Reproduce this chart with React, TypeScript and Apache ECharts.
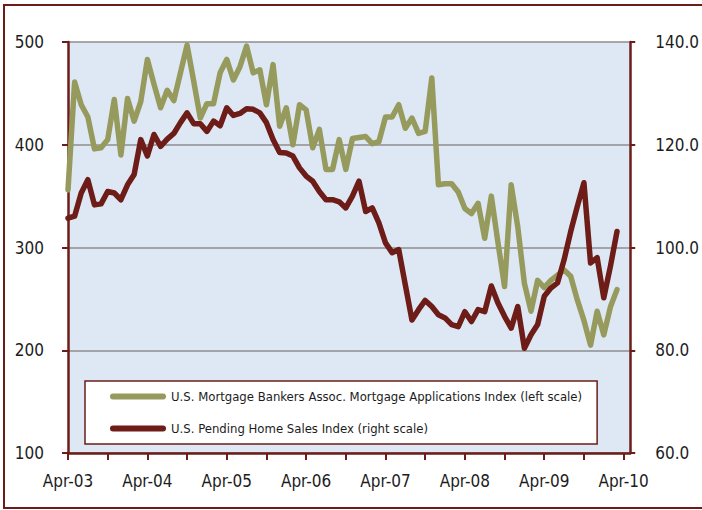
import React, { useEffect, useRef } from "react";
import * as echarts from "echarts";

// Month categories from Apr-03 through May-10 (axis range)
const MONTH_NAMES = ["Jan", "Feb", "Mar", "Apr", "May", "Jun", "Jul", "Aug", "Sep", "Oct", "Nov", "Dec"];
const months: string[] = [];
for (let k = 0; k < 86; k++) {
  const m = (3 + k) % 12;
  const y = 3 + Math.floor((3 + k) / 12);
  months.push(MONTH_NAMES[m] + "-" + String(y).padStart(2, "0"));
}

// U.S. Mortgage Bankers Assoc. Mortgage Applications Index (left scale), Apr-03 .. Mar-10
const mbaApplications = [
  356, 461, 439, 427, 396, 397, 405, 444, 390, 445, 423, 442,
  483, 459, 436, 453, 443, 470, 497, 462, 426, 440, 440, 470,
  483, 463, 476, 496, 470, 473, 439, 478, 418, 436, 400, 439,
  434, 397, 415, 376, 376, 405, 376, 406, 407, 408, 401, 403,
  427, 427, 439, 416, 426, 411, 413, 465, 361, 362, 362, 354,
  338, 333, 343, 309, 350, 305, 262, 361, 320, 265, 238, 268,
  261, 268, 273, 278, 272, 249, 229, 205, 238, 215, 242, 259,
];

// U.S. Pending Home Sales Index (right scale), Apr-03 .. Mar-10
const pendingHomeSales = [
  105.7, 106.1, 110.6, 113.2, 108.3, 108.5, 110.9, 110.6, 109.3, 112.2, 114.2, 121.0,
  117.8, 122.0, 119.7, 121.1, 122.2, 124.3, 126.2, 124.1, 124.1, 122.6, 124.6, 123.7,
  127.2, 125.7, 126.1, 127.0, 126.9, 126.2, 124.3, 121.0, 118.5, 118.4, 117.8, 115.5,
  113.9, 112.9, 110.9, 109.3, 109.3, 108.9, 107.7, 110.0, 112.9, 107.0, 107.7, 104.8,
  100.9, 99.0, 99.6, 92.7, 85.9, 87.9, 89.7, 88.5, 86.9, 86.3, 85.0, 84.6,
  87.5, 85.6, 87.9, 87.5, 92.5, 89.2, 86.6, 84.3, 88.5, 80.4, 83.0, 85.0,
  90.5, 92.1, 93.1, 97.6, 103.1, 108.0, 112.6, 97.0, 98.0, 90.2, 96.3, 103.1,
];

const SERIES_NAMES = [
  "U.S. Mortgage Bankers Assoc. Mortgage Applications Index (left scale)",
  "U.S. Pending Home Sales Index (right scale)",
];

const MAROON = "#6e1c17";
const GREEN = "#979a5d";
const TEXT = "#1c1c1c";
const FONT = "'Liberation Sans Narrow', 'Arial Narrow', 'DejaVu Sans Condensed', sans-serif";

export default function App() {
  const ref = useRef<HTMLDivElement>(null);
  useEffect(() => {
    if (!ref.current) return;
    const chart = echarts.init(ref.current, undefined, { renderer: "svg" });
    chart.setOption({
      animation: false,
      backgroundColor: "#ffffff",
      textStyle: { fontFamily: FONT },
      grid: {
        left: 68,
        right: 70,
        top: 42,
        bottom: 57,
        show: true,
        backgroundColor: "#dde8f4",
        borderWidth: 0,
      },
      legend: {
        orient: "vertical",
        left: 85,
        top: 381,
        padding: [7, 15, 7, 25],
        itemGap: 15,
        itemWidth: 56,
        itemHeight: 6,
        icon: "path://M3,0 H53 A3,3 0 0 1 53,6 H3 A3,3 0 0 1 3,0 Z",
        backgroundColor: "#ffffff",
        borderColor: MAROON,
        borderWidth: 1.5,
        borderRadius: 0,
        textStyle: { fontSize: 13, color: TEXT, fontFamily: FONT, lineHeight: 17 },
        data: SERIES_NAMES,
      },
      xAxis: {
        type: "category",
        data: months,
        boundaryGap: false,
        axisLine: { show: true, lineStyle: { color: MAROON, width: 2.5 } },
        axisTick: {
          show: true,
          interval: (i: number) => i % 6 === 0,
          length: 7,
          lineStyle: { color: MAROON, width: 2 },
        },
        axisLabel: {
          interval: (i: number) => i % 12 === 0,
          margin: 19,
          color: TEXT,
          fontSize: 17,
          fontFamily: FONT,
        },
        splitLine: { show: false },
      },
      yAxis: [
        {
          type: "value",
          position: "left",
          min: 100,
          max: 500,
          interval: 100,
          axisLine: { show: true, lineStyle: { color: MAROON, width: 2.5 } },
          axisTick: { show: true, length: 6, lineStyle: { color: MAROON, width: 2 } },
          axisLabel: { margin: 24, color: TEXT, fontSize: 17, fontFamily: FONT },
          splitLine: { show: true, lineStyle: { color: "#8e8e8e", width: 1.5 } },
        },
        {
          type: "value",
          position: "right",
          min: 60,
          max: 140,
          interval: 20,
          axisLine: { show: true, lineStyle: { color: MAROON, width: 2.5 } },
          axisTick: { show: true, length: 5, lineStyle: { color: MAROON, width: 2 } },
          axisLabel: {
            margin: 25,
            color: TEXT,
            fontSize: 17,
            fontFamily: FONT,
            formatter: (v: number) => v.toFixed(1),
          },
          splitLine: { show: false },
        },
      ],
      series: [
        {
          name: SERIES_NAMES[0],
          type: "line",
          yAxisIndex: 0,
          data: mbaApplications,
          symbol: "none",
          showSymbol: false,
          lineStyle: { color: GREEN, width: 5.5, join: "round", cap: "round" },
          itemStyle: { color: GREEN },
          z: 2,
        },
        {
          name: SERIES_NAMES[1],
          type: "line",
          yAxisIndex: 1,
          data: pendingHomeSales,
          symbol: "none",
          showSymbol: false,
          lineStyle: { color: MAROON, width: 5.5, join: "round", cap: "round" },
          itemStyle: { color: MAROON },
          z: 3,
        },
      ],
      graphic: [
        {
          type: "rect",
          silent: true,
          z: 100,
          shape: { x: 4, y: 5, width: 720, height: 503 },
          style: { fill: "none", stroke: MAROON, lineWidth: 2 },
        },
      ],
    });
    return () => chart.dispose();
  }, []);
  return (
    <div
      ref={ref}
      style={{ position: "fixed", left: 0, top: 0, width: 702, height: 510 }}
    />
  );
}
